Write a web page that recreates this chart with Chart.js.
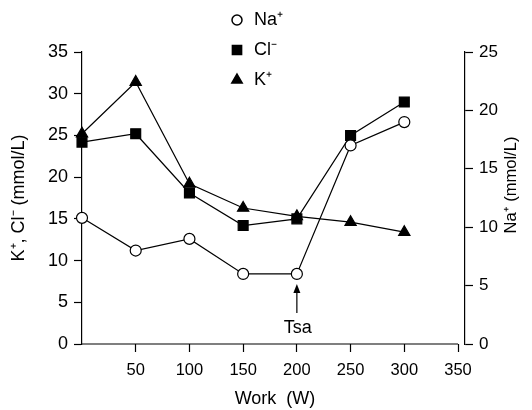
<!DOCTYPE html>
<html lang="en">
<head>
    <meta charset="UTF-8">
    <title>Electrolytes vs Work</title>
    <script src="https://cdn.jsdelivr.net/npm/chart.js@4.4.0/dist/chart.umd.min.js"></script>
    <style>
        * {
            margin: 0;
            padding: 0;
            box-sizing: border-box;
        }

        body {
            background: #fff;
        }

        .chart-box {
            width: 532px;
            height: 410px;
        }
    </style>
</head>
<body>
    <div class="chart-box">
        <canvas id="ionChart" width="532" height="410"></canvas>
    </div>

    <script>
        // Values
        const work = [0, 50, 100, 150, 200, 250, 300];
        const naValues = [10.8, 8.0, 9.0, 6.0, 6.0, 17.0, 19.0];   // right axis
        const clValues = [24.2, 25.2, 18.1, 14.2, 15.0, 25.0, 29.0];
        const kValues = [25.2, 31.4, 19.2, 16.3, 15.3, 14.6, 13.4];
        const leftTicks = [0, 5, 10, 15, 20, 25, 30, 35];
        const rightTicks = [0, 5, 10, 15, 20, 25];
        const workTicks = [50, 100, 150, 200, 250, 300, 350];

        const FONT = '"Liberation Sans", Arial, sans-serif';

        const toPoints = vals => vals.map((v, i) => ({ x: work[i], y: v }));

        const datasets = [
            {
                label: 'Na⁺',
                data: toPoints(naValues),
                yAxisID: 'y2',
                pointStyle: 'circle',
                pointRadius: 5.5,
                backgroundColor: '#fff',
                borderColor: '#000'
            },
            {
                label: 'Cl⁻',
                data: toPoints(clValues),
                yAxisID: 'y',
                pointStyle: 'rect',
                pointRadius: 7,
                backgroundColor: '#000',
                borderColor: '#000'
            },
            {
                label: 'K⁺',
                data: toPoints(kValues),
                yAxisID: 'y',
                pointStyle: 'triangle',
                pointRadius: 6.5,
                backgroundColor: '#000',
                borderColor: '#000'
            }
        ];
        datasets.forEach(d => {
            d.borderWidth = 1.2;
            d.pointBorderWidth = 1.2;
            d.clip = false;
        });

        // Titles, legend, Tsa arrow and the short x axis line
        const extras = {
            id: 'extras',
            afterDraw(chart) {
                const ctx = chart.ctx;
                const x = chart.scales.x;
                const y = chart.scales.y;
                ctx.save();
                ctx.fillStyle = '#000';
                ctx.strokeStyle = '#000';

                // x axis line from 0 to 350
                ctx.lineWidth = 1.2;
                ctx.beginPath();
                ctx.moveTo(x.getPixelForValue(0), y.bottom);
                ctx.lineTo(x.getPixelForValue(350), y.bottom);
                ctx.stroke();

                // Tsa arrow
                const ax = x.getPixelForValue(200);
                ctx.beginPath();
                ctx.moveTo(ax, y.bottom - 31);
                ctx.lineTo(ax, y.bottom - 55);
                ctx.stroke();
                ctx.beginPath();
                ctx.moveTo(ax, y.bottom - 60);
                ctx.lineTo(ax - 3.5, y.bottom - 51);
                ctx.lineTo(ax + 3.5, y.bottom - 51);
                ctx.closePath();
                ctx.fill();
                ctx.font = '18px ' + FONT;
                ctx.textAlign = 'center';
                ctx.textBaseline = 'middle';
                ctx.fillText('Tsa', ax + 1, y.bottom - 16);

                // axis titles
                ctx.fillText('Work  (W)', 275, 399);
                ctx.save();
                ctx.translate(19, 198);
                ctx.rotate(-Math.PI / 2);
                ctx.fillText('K⁺, Cl⁻ (mmol/L)', 0, 0);
                ctx.restore();
                ctx.save();
                ctx.font = '16.5px ' + FONT;
                ctx.translate(511, 185);
                ctx.rotate(-Math.PI / 2);
                ctx.fillText('Na⁺ (mmol/L)', 0, 0);
                ctx.restore();

                // legend
                const rows = [20, 50, 80];
                ctx.textAlign = 'left';
                ctx.font = '18px ' + FONT;
                chart.data.datasets.forEach((ds, i) => {
                    ctx.fillStyle = ds.backgroundColor;
                    ctx.strokeStyle = ds.borderColor;
                    ctx.lineWidth = 1.5;
                    Chart.helpers.drawPoint(ctx, {
                        pointStyle: ds.pointStyle,
                        radius: ds.pointRadius - 0.5,
                        rotation: 0,
                        borderWidth: 1.5
                    }, 237, rows[i]);
                    ctx.fillStyle = '#000';
                    ctx.fillText(ds.label, 254, rows[i]);
                });
                ctx.restore();
            }
        };

        const yFont = { family: FONT, size: 18 };
        const y2Font = { family: FONT, size: 17 };
        const xFont = { family: FONT, size: 16.5 };

        new Chart(document.getElementById('ionChart'), {
            type: 'line',
            data: { datasets },
            options: {
                responsive: false,
                animation: false,
                layout: { padding: { top: 52, left: 0, right: 0, bottom: 0 } },
                plugins: {
                    legend: { display: false },
                    tooltip: { enabled: false }
                },
                scales: {
                    x: {
                        type: 'linear',
                        min: 0,
                        max: 356.5,
                        afterBuildTicks: s => { s.ticks = [0].concat(workTicks).map(v => ({ value: v })); },
                        ticks: {
                            color: '#000',
                            font: xFont,
                            padding: 9,
                            maxRotation: 0,
                            callback: v => v === 0 ? '' : v
                        },
                        grid: {
                            drawOnChartArea: false,
                            tickLength: 8,
                            tickWidth: 1.2,
                            tickColor: c => (c.tick && c.tick.value === 0) ? 'rgba(0,0,0,0)' : '#000'
                        },
                        border: { display: false },
                        afterFit: s => { s.height = 66; }
                    },
                    y: {
                        position: 'left',
                        min: 0,
                        max: 35,
                        afterBuildTicks: s => { s.ticks = leftTicks.map(v => ({ value: v })); },
                        ticks: { color: '#000', font: yFont, padding: 6 },
                        grid: { drawOnChartArea: false, tickLength: 8, tickWidth: 1.2, tickColor: '#000' },
                        border: { color: '#000', width: 1.2 },
                        afterFit: s => { s.width = 82; }
                    },
                    y2: {
                        position: 'right',
                        min: 0,
                        max: 25,
                        afterBuildTicks: s => { s.ticks = rightTicks.map(v => ({ value: v })); },
                        ticks: { color: '#000', font: y2Font, padding: 6 },
                        grid: { drawOnChartArea: false, tickLength: 8, tickWidth: 1.2, tickColor: '#000' },
                        border: { color: '#000', width: 1.2 },
                        afterFit: s => { s.width = 67; }
                    }
                }
            },
            plugins: [extras]
        });
    </script>
</body>
</html>
